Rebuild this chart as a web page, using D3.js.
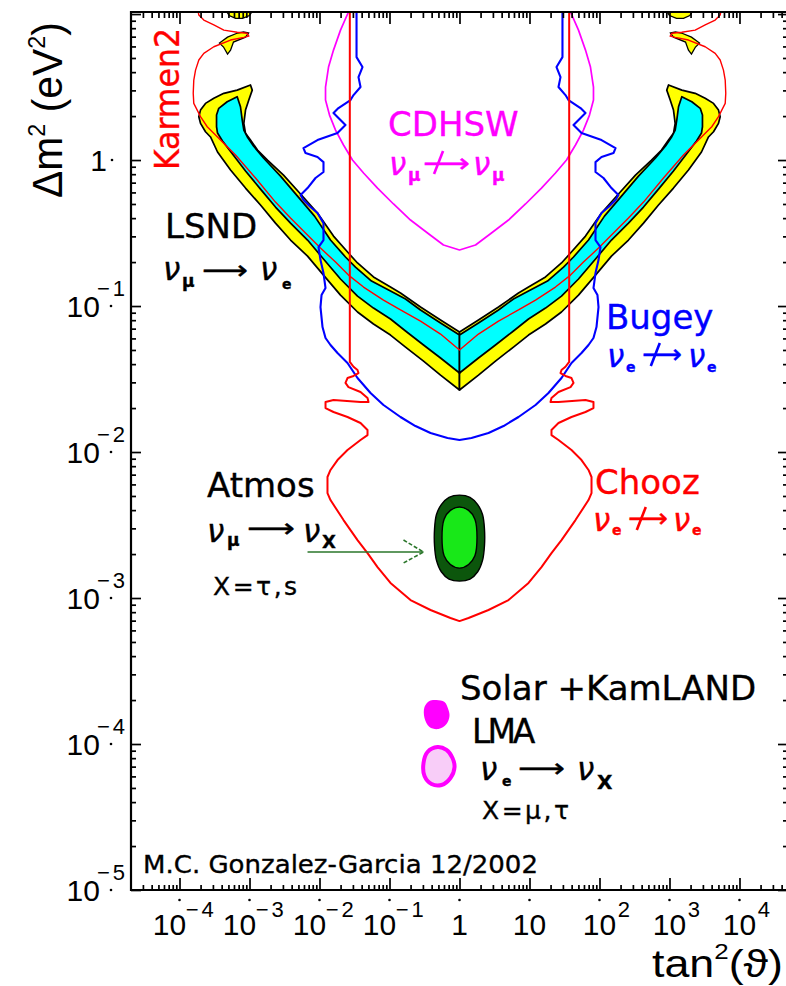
<!DOCTYPE html>
<html>
<head>
<meta charset="utf-8">
<script src="https://cdn.jsdelivr.net/npm/d3@7"></script>
<style>
  html, body { margin: 0; padding: 0; background: #fff; }
  svg { display: block; }
</style>
</head>
<body>
<svg id="chart" width="786" height="986"></svg>
<script>
// Exclusion / allowed regions in the (tan²θ, Δm²) plane.
// Every point is [log10 tan²θ, log10 Δm²(eV²)].
// Reactor/accelerator limits depend on sin²2θ only, so each is stored for
// tan²θ ≤ 1 and reflected about tan²θ = 1.

const karmenHalf = [
  [-3.75, 1.06], [-3.724, 0.993], [-3.653, 0.959], [-3.510, 0.925], [-3.367, 0.890],
  [-3.176, 0.875], [-3.033, 0.868], [-3.010, 0.849], [-3.081, 0.840], [-3.271, 0.822],
  [-3.510, 0.776], [-3.653, 0.731], [-3.724, 0.685], [-3.771, 0.616], [-3.796, 0.548],
  [-3.804, 0.457], [-3.796, 0.388], [-3.747, 0.342], [-3.700, 0.297], [-3.604, 0.228],
  [-3.461, 0.160], [-3.200, 0.034], [-2.914, -0.123], [-2.629, -0.288], [-2.414, -0.397],
  [-2.200, -0.500], [-1.986, -0.603], [-1.771, -0.699], [-1.586, -0.788], [-1.371, -0.870],
  [-1.086, -0.959], [-0.843, -1.027], [-0.557, -1.103], [-0.271, -1.192], [0, -1.301]
];

const choozHalf = [
  [-1.567, 1.06], [-1.567, -1.382], [-1.514, -1.416], [-1.457, -1.438], [-1.443, -1.459],
  [-1.514, -1.479], [-1.600, -1.493], [-1.629, -1.527], [-1.586, -1.555], [-1.414, -1.589],
  [-1.314, -1.630], [-1.300, -1.658], [-1.414, -1.658], [-1.800, -1.644], [-1.914, -1.658],
  [-1.914, -1.699], [-1.800, -1.726], [-1.600, -1.760], [-1.414, -1.801], [-1.314, -1.849],
  [-1.314, -1.884], [-1.414, -1.918], [-1.600, -1.986], [-1.743, -2.055], [-1.843, -2.123],
  [-1.886, -2.171], [-1.886, -2.281], [-1.843, -2.329], [-1.657, -2.466], [-1.457, -2.603],
  [-1.314, -2.692], [-1.171, -2.788], [-0.986, -2.897], [-0.700, -3.014], [-0.414, -3.082],
  [-0.129, -3.137], [0, -3.158]
];

const bugeyHalf = [
  [-1.471, 1.06], [-1.471, 0.705], [-1.386, 0.637], [-1.443, 0.568], [-1.414, 0.500],
  [-1.514, 0.445], [-1.557, 0.411], [-1.729, 0.356], [-1.800, 0.322], [-1.629, 0.240],
  [-1.743, 0.185], [-2.029, 0.137], [-2.229, 0.082], [-2.200, 0.048], [-2.029, 0.021],
  [-1.943, -0.014], [-1.943, -0.082], [-2.057, -0.123], [-2.171, -0.192], [-2.271, -0.240],
  [-2.229, -0.274], [-2.129, -0.322], [-2.029, -0.363], [-1.943, -0.432], [-1.943, -0.548],
  [-2.014, -0.596], [-1.986, -0.685], [-1.943, -0.774], [-1.914, -0.877], [-1.971, -0.925],
  [-1.986, -1.007], [-1.957, -1.144], [-1.914, -1.219], [-1.843, -1.267], [-1.743, -1.322],
  [-1.600, -1.390], [-1.457, -1.493], [-1.271, -1.596], [-1.086, -1.678], [-0.843, -1.760],
  [-0.629, -1.822], [-0.414, -1.870], [-0.171, -1.904], [0, -1.918]
];

const cdhswHalf = [
  [-1.56, 1.06], [-1.586, 1.014], [-1.700, 0.890], [-1.800, 0.753], [-1.871, 0.637],
  [-1.914, 0.500], [-1.914, 0.411], [-1.857, 0.308], [-1.771, 0.205], [-1.657, 0.103],
  [-1.529, 0], [-1.371, -0.089], [-1.171, -0.192], [-0.943, -0.301], [-0.700, -0.411],
  [-0.457, -0.500], [-0.229, -0.582], [0, -0.616]
];

// LSND allowed bands (99% outer, 90% inner), one closed outline per side
const lsndOuterHalf = [
  [0, -1.575], [-0.271, -1.473], [-0.514, -1.377], [-0.771, -1.281], [-0.986, -1.199],
  [-1.229, -1.123], [-1.457, -1.041], [-1.700, -0.925], [-1.943, -0.788], [-2.171, -0.658],
  [-2.414, -0.548], [-2.629, -0.432], [-2.843, -0.308], [-3.057, -0.192], [-3.271, -0.068],
  [-3.457, 0.055], [-3.557, 0.158], [-3.629, 0.194], [-3.700, 0.251], [-3.724, 0.297],
  [-3.700, 0.342], [-3.629, 0.388], [-3.510, 0.423], [-3.367, 0.457], [-3.176, 0.479],
  [-2.986, 0.514], [-2.961, 0.479], [-3.010, 0.411], [-3.057, 0.342], [-3.081, 0.251],
  [-3.057, 0.183], [-2.986, 0.137], [-2.886, 0.068], [-2.743, 0], [-2.514, -0.103],
  [-2.271, -0.233], [-2.029, -0.363], [-1.800, -0.521], [-1.586, -0.637], [-1.457, -0.705],
  [-1.229, -0.801], [-0.986, -0.870], [-0.843, -0.911], [-0.557, -1.007], [-0.271, -1.096],
  [0, -1.178]
];

const lsndInnerHalf = [
  [0, -1.459], [-0.271, -1.356], [-0.514, -1.267], [-0.771, -1.171], [-0.986, -1.089],
  [-1.229, -1.014], [-1.457, -0.932], [-1.700, -0.815], [-1.943, -0.678], [-2.171, -0.548],
  [-2.414, -0.432], [-2.629, -0.322], [-2.843, -0.199], [-3.057, -0.075], [-3.243, 0.041],
  [-3.386, 0.130], [-3.457, 0.185], [-3.471, 0.228], [-3.471, 0.308], [-3.439, 0.354],
  [-3.319, 0.399], [-3.176, 0.434], [-3.129, 0.365], [-3.104, 0.274], [-3.081, 0.205],
  [-3.033, 0.160], [-2.943, 0.096], [-2.800, 0.014], [-2.557, -0.110], [-2.314, -0.247],
  [-2.071, -0.384], [-1.843, -0.548], [-1.629, -0.664], [-1.486, -0.733], [-1.257, -0.829],
  [-0.986, -0.897], [-0.771, -0.952], [-0.557, -1.027], [-0.271, -1.116], [0, -1.199]
];

// Small LSND islands at large Δm²
const lsndIslandsHalf = [
  [[-3.33, 1.02], [-3.29, 0.99], [-3.20, 0.97], [-3.10, 0.97], [-3.00, 0.99],
   [-2.96, 1.02], [-3.00, 1.06], [-3.16, 1.07], [-3.29, 1.05]],
  [[-3.014, 0.870], [-3.057, 0.842], [-3.229, 0.808], [-3.271, 0.753], [-3.314, 0.726],
   [-3.371, 0.774], [-3.429, 0.801], [-3.314, 0.842], [-3.171, 0.870], [-3.086, 0.877]]
];

// Atmospheric allowed region
const atmosOuter = [
  [0, -2.295], [0.15, -2.31], [0.26, -2.36], [0.33, -2.43], [0.357, -2.53], [0.357, -2.64],
  [0.33, -2.74], [0.26, -2.82], [0.15, -2.87], [0, -2.884], [-0.15, -2.87], [-0.26, -2.82],
  [-0.33, -2.74], [-0.357, -2.64], [-0.357, -2.53], [-0.33, -2.43], [-0.26, -2.36], [-0.15, -2.31]
];
const atmosInner = [
  [0, -2.377], [0.13, -2.40], [0.22, -2.46], [0.25, -2.586], [0.22, -2.71], [0.13, -2.77],
  [0, -2.795], [-0.13, -2.77], [-0.22, -2.71], [-0.25, -2.586], [-0.22, -2.46], [-0.13, -2.40]
];
const atmosArrow = { from: [-2.171, -2.685], to: [-0.514, -2.685],
                     head: [[-0.80, -2.603], [-0.514, -2.685], [-0.80, -2.760]] };

// Solar + KamLAND LMA islands
const solarUpper = [
  [-0.33, -3.699], [-0.214, -3.712], [-0.157, -3.767], [-0.143, -3.808], [-0.186, -3.863],
  [-0.30, -3.897], [-0.429, -3.884], [-0.50, -3.822], [-0.50, -3.747], [-0.429, -3.705]
];
const solarLower = [
  [-0.314, -4.021], [-0.186, -4.041], [-0.10, -4.096], [-0.071, -4.158], [-0.129, -4.233],
  [-0.257, -4.281], [-0.40, -4.274], [-0.50, -4.219], [-0.514, -4.130], [-0.457, -4.055]
];

// Axis ticks
const xTickExps = [-4, -3, -2, -1, 0, 1, 2, 3, 4];
const xTickLabels = ["10^−4", "10^−3", "10^−2", "10^−1", "1", "10", "10^2", "10^3", "10^4"];
const yTickExps = [-5, -4, -3, -2, -1, 0];
const yTickLabels = ["10^−5", "10^−4", "10^−3", "10^−2", "10^−1", "1"];

// ---------------------------------------------------------------------------
const frame = { left: 131, right: 788, top: 12, bottom: 890 };
const svg = d3.select("#chart");

const x = d3.scaleLog().domain([10 ** -4.693, 10 ** 4.693]).range([frame.left, frame.right]);
const y = d3.scaleLog().domain([1e-5, 10 ** 1.014]).range([frame.bottom, frame.top]);

const px = d => x(10 ** d[0]);
const py = d => y(10 ** d[1]);
const line = d3.line().x(px).y(py);
const blob = d3.line().x(px).y(py).curve(d3.curveCatmullRomClosed.alpha(0.5));

const flip = pts => pts.map(([a, b]) => [-a, b]);
const bothSides = half => half.concat(flip(half.slice(0, -1)).reverse());

svg.append("defs").append("clipPath").attr("id", "plotArea")
  .append("rect")
  .attr("x", frame.left).attr("y", frame.top)
  .attr("width", frame.right - frame.left).attr("height", frame.bottom - frame.top);

const plot = svg.append("g").attr("clip-path", "url(#plotArea)");

// LSND bands
[[lsndOuterHalf, "#ffff00"], [lsndInnerHalf, "#00ffff"]].forEach(([half, fill]) => {
  [half, flip(half)].forEach(side => {
    plot.append("path")
      .attr("d", line(side) + "Z")
      .attr("fill", fill)
      .attr("stroke", "#000")
      .attr("stroke-width", 1.7)
      .attr("stroke-linejoin", "round");
  });
});
lsndIslandsHalf.forEach(isl => {
  [isl, flip(isl)].forEach(side => {
    plot.append("path")
      .attr("d", line(side) + "Z")
      .attr("fill", "#ffff00")
      .attr("stroke", "#000")
      .attr("stroke-width", 1.3);
  });
});

// Exclusion contours
const contours = [
  { half: karmenHalf, color: "#ff0000", width: 1.4 },
  { half: cdhswHalf, color: "#ff00ff", width: 1.7 },
  { half: bugeyHalf, color: "#0000ff", width: 2.1 },
  { half: choozHalf, color: "#ff0000", width: 2.0 }
];
contours.forEach(c => {
  plot.append("path")
    .attr("d", line(bothSides(c.half)))
    .attr("fill", "none")
    .attr("stroke", c.color)
    .attr("stroke-width", c.width)
    .attr("stroke-linejoin", "round");
});

// Atmospheric region
plot.append("path").attr("d", blob(atmosOuter))
  .attr("fill", "#0c560c").attr("stroke", "#000").attr("stroke-width", 1.4);
plot.append("path").attr("d", blob(atmosInner))
  .attr("fill", "#18e818").attr("stroke", "#000").attr("stroke-width", 1.4);

plot.append("path").attr("d", line([atmosArrow.from, atmosArrow.to]))
  .attr("stroke", "#2a762a").attr("stroke-width", 1.6).attr("fill", "none");
plot.append("path").attr("d", line(atmosArrow.head))
  .attr("stroke", "#2a762a").attr("stroke-width", 1.6).attr("fill", "none")
  .attr("stroke-dasharray", "4,2");

// Solar LMA islands
plot.append("path").attr("d", blob(solarUpper)).attr("fill", "#ff00ff");
plot.append("path").attr("d", blob(solarLower))
  .attr("fill", "#f8cdf8").attr("stroke", "#ff00ff").attr("stroke-width", 4);

// ---------------------------------------------------------------------------
// Axes: ticks on all four sides, pointing inwards
function tickSet(axisFn, scale, values, size, transform) {
  const g = svg.append("g").attr("transform", transform)
    .call(axisFn(scale).tickValues(values).tickSize(size).tickFormat(""));
  g.select(".domain").remove();
  g.selectAll("line").attr("stroke", "#000").attr("stroke-width", 1.7);
}
function minorsOf(scale, lo, hi) {
  const out = [];
  const [d0, d1] = scale.domain();
  for (let e = lo; e <= hi; e++) {
    for (let k = 2; k <= 9; k++) {
      const v = k * 10 ** e;
      if (v > d0 && v < d1) out.push(v);
    }
  }
  return out;
}
const xMajors = d3.range(-4, 5).map(e => 10 ** e);
const xMinors = minorsOf(x, -5, 4);
const yMajors = d3.range(-5, 2).map(e => 10 ** e).filter(v => v <= y.domain()[1]);
const yMinors = minorsOf(y, -5, 1);

tickSet(d3.axisBottom, x, xMajors, -12, `translate(0,${frame.bottom})`);
tickSet(d3.axisBottom, x, xMinors, -5, `translate(0,${frame.bottom})`);
tickSet(d3.axisTop, x, xMajors, -12, `translate(0,${frame.top})`);
tickSet(d3.axisTop, x, xMinors, -6, `translate(0,${frame.top})`);
tickSet(d3.axisLeft, y, yMajors, -10, `translate(${frame.left},0)`);
tickSet(d3.axisLeft, y, yMinors, -5, `translate(${frame.left},0)`);
tickSet(d3.axisRight, y, yMajors, -10, `translate(${frame.right},0)`);
tickSet(d3.axisRight, y, yMinors, -5, `translate(${frame.right},0)`);

// Frame
svg.append("path")
  .attr("d", `M${frame.right},${frame.top}H${frame.left}V${frame.bottom}H${frame.right}`)
  .attr("fill", "none").attr("stroke", "#000").attr("stroke-width", 2.2);

// Text helpers
const tickFont = "'Liberation Sans', Arial, sans-serif";
const annFont = "'DejaVu Sans', sans-serif";

function label(str, xx, yy, o = {}) {
  const t = svg.append("text").attr("x", xx).attr("y", yy).text(str)
    .attr("font-family", o.family || tickFont)
    .attr("font-size", o.size || 30)
    .attr("fill", o.color || "#000");
  if (o.anchor) t.attr("text-anchor", o.anchor);
  return t;
}
// "10" with a raised exponent, as one text element
function powerLabel(base, sup, startX, baseY, raise, supDx) {
  const t = svg.append("text").attr("x", startX).attr("y", baseY)
    .attr("font-family", tickFont).attr("font-size", 30).attr("fill", "#000");
  t.append("tspan").text(base);
  t.append("tspan").attr("dx", supDx).attr("dy", -raise)
    .attr("font-size", 22).attr("letter-spacing", sup.startsWith("−") ? 3 : 0).text(sup);
  return t;
}

// Tick labels
yTickExps.forEach((e, i) => {
  const ty = y(10 ** e);
  const [base, sup] = yTickLabels[i].split("^");
  if (sup) {
    powerLabel(base, sup, 66.6, ty + 10.5, 21, -3);
    svg.append("circle").attr("cx", 111).attr("cy", ty).attr("r", 1.3).attr("fill", "#000");
  } else {
    label(base, 107, ty + 10.5, { anchor: "end" });
    svg.append("circle").attr("cx", 112).attr("cy", ty).attr("r", 1.3).attr("fill", "#000");
  }
});

xTickExps.forEach((e, i) => {
  const tx = x(10 ** e);
  const [base, sup] = xTickLabels[i].split("^");
  svg.append("circle").attr("cx", tx).attr("cy", 900).attr("r", 1.3).attr("fill", "#000");
  if (!sup) {
    label(base, tx, 935, { anchor: "middle" });
  } else if (sup.startsWith("−")) {
    powerLabel(base, sup, tx - 26.7, 935, 18, -0.5);
  } else {
    powerLabel(base, sup, tx - 16.7, 935, 18, 1.5);
  }
});

// Axis titles
const yTitle = svg.append("text")
  .attr("transform", "translate(62,110) rotate(-90)")
  .attr("text-anchor", "middle")
  .attr("font-family", tickFont).attr("font-size", 42)
  .attr("textLength", 176).attr("lengthAdjust", "spacingAndGlyphs");
yTitle.append("tspan").text("Δm");
yTitle.append("tspan").attr("font-size", 24).attr("dy", -17).text("2");
yTitle.append("tspan").attr("dy", 17).text(" (eV");
yTitle.append("tspan").attr("font-size", 24).attr("dy", -17).text("2");
yTitle.append("tspan").attr("dy", 17).text(")");

const xTitle = svg.append("text")
  .attr("x", 652).attr("y", 977)
  .attr("font-family", tickFont).attr("font-size", 38)
  .attr("textLength", 131).attr("lengthAdjust", "spacingAndGlyphs");
xTitle.append("tspan").text("tan");
xTitle.append("tspan").attr("font-size", 22).attr("dy", -18).text("2");
xTitle.append("tspan").attr("dy", 18).text("(ϑ)");

// ---------------------------------------------------------------------------
// Experiment annotations: name, oscillation channel ν_a → ν_b and notes,
// each block set as one text element with positioned runs.
const nu = (xx, yy) => ({ t: "ν", x: xx, y: yy, size: 31, italic: true });
const sub = (s, xx, yy, size) => ({ t: s, x: xx, y: yy, size, bold: true });
const arrow = (x0, x1, ay) => ({ t: "⟶", x: x0, y: ay + 8.5, size: 26, len: x1 - x0 });

const blocks = [
  { color: "#000", runs: [
      { t: "LSND", x: 165, y: 238, size: 34 },
      nu(163, 280), sub("μ", 182, 287, 17), arrow(202, 248, 270), nu(260, 280), sub("e", 282, 289, 14)
    ] },
  { color: "#ff00ff", strike: [[423, 470, 162]], runs: [
      { t: "CDHSW", x: 388, y: 136, size: 34 },
      nu(389, 175), sub("μ", 408, 181, 17), arrow(423, 470, 163), nu(473, 175), sub("μ", 492, 181, 17)
    ] },
  { color: "#0000ff", strike: [[642, 682, 354]], runs: [
      { t: "Bugey", x: 606, y: 329, size: 34 },
      nu(607, 367), sub("e", 626, 372, 14), arrow(642, 682, 354), nu(688, 367), sub("e", 707, 372, 14)
    ] },
  { color: "#000", runs: [
      { t: "Atmos", x: 207, y: 497, size: 34 },
      nu(207, 542), sub("μ", 227, 546, 17), arrow(247, 295, 528), nu(303, 542), sub("X", 322, 548, 18),
      { t: "X=τ,s", x: 213, y: 595, size: 25, ls: 2.5 }
    ] },
  { color: "#ff0000", strike: [[628, 668, 518]], runs: [
      { t: "Chooz", x: 595, y: 494, size: 34 },
      nu(593, 531), sub("e", 612, 535, 14), arrow(628, 668, 518), nu(673, 531), sub("e", 692, 535, 14)
    ] },
  { color: "#000", runs: [
      { t: "Solar +KamLAND", x: 460, y: 700, size: 34 },
      { t: "LMA", x: 472, y: 743, size: 33, ls: -3 },
      nu(480, 780), sub("e", 502, 786, 14), arrow(518, 565, 768), nu(577, 780), sub("X", 597, 789, 20),
      { t: "X=μ,τ", x: 482, y: 819, size: 25, ls: 2.5 }
    ] },
  { color: "#000", runs: [
      { t: "M.C. Gonzalez-Garcia 12/2002", x: 143, y: 873, size: 25, len: 395 }
    ] }
];

blocks.forEach(b => {
  const t = svg.append("text")
    .attr("font-family", annFont).attr("fill", b.color)
    .attr("stroke", b.color).attr("stroke-width", 0.35);
  b.runs.forEach(r => {
    const s = t.append("tspan").attr("x", r.x).attr("y", r.y)
      .attr("font-size", r.size).text(r.t);
    if (r.italic) s.attr("font-style", "italic");
    if (r.bold) s.attr("font-weight", "bold");
    if (r.ls) s.attr("letter-spacing", r.ls);
    if (r.len) s.attr("textLength", r.len).attr("lengthAdjust", "spacingAndGlyphs");
  });
  (b.strike || []).forEach(([a0, a1, ay]) => {
    const sx = a0 + 0.32 * (a1 - a0);
    svg.append("path")
      .attr("d", `M${sx - 4},${ay + 12}L${sx + 5},${ay - 11}`)
      .attr("stroke", b.color).attr("stroke-width", 2.6).attr("fill", "none");
  });
});

svg.append("text")
  .attr("transform", "translate(179,99) rotate(-90)")
  .attr("text-anchor", "middle")
  .attr("font-family", annFont).attr("font-size", 34)
  .attr("fill", "#ff0000").attr("stroke", "#ff0000").attr("stroke-width", 0.35)
  .attr("textLength", 142).attr("lengthAdjust", "spacingAndGlyphs")
  .text("Karmen2");
</script>
</body>
</html>
